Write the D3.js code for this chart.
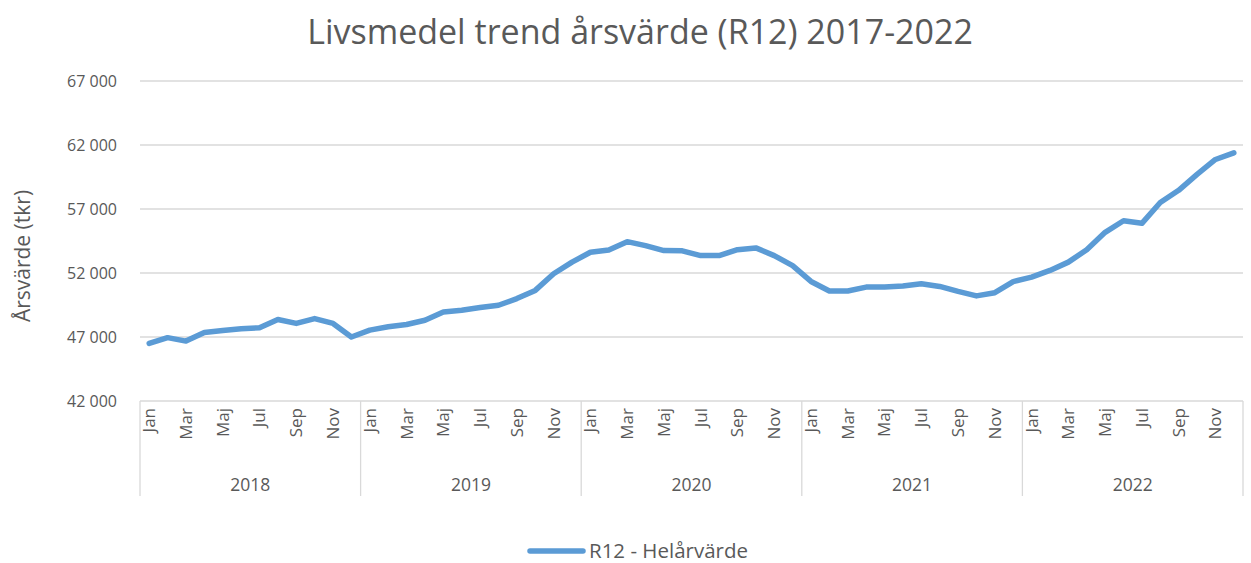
<!DOCTYPE html>
<html>
<head>
<meta charset="utf-8">
<script src="https://cdn.jsdelivr.net/npm/d3@7"></script>
<style>
  body { margin: 0; background: #fff; }
  text { font-family: "Open Sans", sans-serif; fill: #595959; }
</style>
</head>
<body>
<div id="chart-area"></div>
<script>
let width = 1251,
    height = 563;

// data
let years = [2018, 2019, 2020, 2021, 2022];
let monthNames = ["Jan", "Feb", "Mar", "Apr", "Maj", "Jun", "Jul", "Aug", "Sep", "Okt", "Nov", "Dec"];
let values = [
  46500, 46950, 46680, 47360, 47510, 47640, 47720, 48370, 48060, 48440, 48060, 47000,
  47540, 47800, 47980, 48310, 48960, 49090, 49300, 49480, 50000, 50640, 51940, 52850,
  53620, 53800, 54450, 54140, 53750, 53730, 53360, 53360, 53820, 53960, 53360, 52580,
  51340, 50590, 50590, 50900, 50900, 50980, 51160, 50950, 50560, 50210, 50460, 51330,
  51680, 52200, 52850, 53820, 55180, 56080, 55880, 57510, 58460, 59700, 60870, 61390
];
let yTicks = [42000, 47000, 52000, 57000, 62000, 67000];

let data = [];
years.forEach((y, yi) => {
  monthNames.forEach((m, mi) => {
    data.push({ key: y + "-" + mi, year: y, month: m, mi: mi, value: values[yi * 12 + mi] });
  });
});

let margin = { left: 140, right: 8, top: 81, bottom: 160 };

let svg = d3.select("#chart-area").append("svg")
    .attr("width", width)
    .attr("height", height);

let x = d3.scaleBand()
    .domain(data.map(d => d.key))
    .range([margin.left, width - margin.right]);

let y = d3.scaleLinear()
    .domain([42000, 67000])
    .range([height - margin.bottom - 2, margin.top]);

let fmt = v => d3.format(",")(v).replace(",", " ");

// grid
svg.append("g")
  .selectAll("line")
  .data(yTicks.slice(1))
  .enter().append("line")
  .attr("x1", margin.left).attr("x2", width - margin.right)
  .attr("y1", d => y(d)).attr("y2", d => y(d))
  .attr("stroke", "#d9d9d9").attr("stroke-width", 1.3);

// y labels
svg.append("g")
  .selectAll("text")
  .data(yTicks)
  .enter().append("text")
  .attr("x", 117)
  .attr("y", d => y(d))
  .attr("dy", "0.35em")
  .attr("text-anchor", "end")
  .style("font-size", "16px")
  .text(fmt);

// x axis base
let y0 = y(42000);
svg.append("line")
  .attr("x1", margin.left).attr("x2", width - margin.right)
  .attr("y1", y0).attr("y2", y0)
  .attr("stroke", "#d9d9d9").attr("stroke-width", 1.3);

// year separators
let bounds = years.map(yr => x(yr + "-0")).concat([x.range()[1]]);
svg.append("g")
  .selectAll("line")
  .data(bounds)
  .enter().append("line")
  .attr("x1", d => d).attr("x2", d => d)
  .attr("y1", y0).attr("y2", y0 + 95)
  .attr("stroke", "#d9d9d9").attr("stroke-width", 1.3);

// month labels (every other month)
svg.append("g")
  .selectAll("text")
  .data(data.filter(d => d.mi % 2 === 0))
  .enter().append("text")
  .attr("transform", d => "translate(" + (x(d.key) + x.bandwidth() / 2) + "," + (y0 + 7) + ") rotate(-90)")
  .attr("dy", "0.35em")
  .attr("text-anchor", "end")
  .style("font-size", "17px")
  .text(d => d.month);

// year labels
svg.append("g")
  .selectAll("text")
  .data(years)
  .enter().append("text")
  .attr("x", (d, i) => (bounds[i] + bounds[i + 1]) / 2)
  .attr("y", y0 + 90)
  .attr("text-anchor", "middle")
  .style("font-size", "17.5px")
  .text(d => d);

// line
let line = d3.line()
  .x(d => x(d.key) + x.bandwidth() / 2)
  .y(d => y(d.value));

svg.append("path")
  .datum(data)
  .attr("d", line)
  .attr("fill", "none")
  .attr("stroke", "#5b9bd5")
  .attr("stroke-width", 5.5)
  .attr("stroke-linejoin", "round")
  .attr("stroke-linecap", "round");

// title
svg.append("text")
  .attr("x", 640)
  .attr("y", 44)
  .attr("text-anchor", "middle")
  .style("font-size", "34px")
  .text("Livsmedel trend årsvärde (R12) 2017-2022");

// y title
svg.append("text")
  .attr("transform", "translate(30,256) rotate(-90)")
  .attr("text-anchor", "middle")
  .style("font-size", "21px")
  .text("Årsvärde (tkr)");

// legend
svg.append("line")
  .attr("x1", 530).attr("x2", 583)
  .attr("y1", 551).attr("y2", 551)
  .attr("stroke", "#5b9bd5").attr("stroke-width", 5.5)
  .attr("stroke-linecap", "round");
svg.append("text")
  .attr("x", 589)
  .attr("y", 551)
  .attr("dy", "0.35em")
  .style("font-size", "20.5px")
  .text("R12 - Helårvärde");
</script>
</body>
</html>
